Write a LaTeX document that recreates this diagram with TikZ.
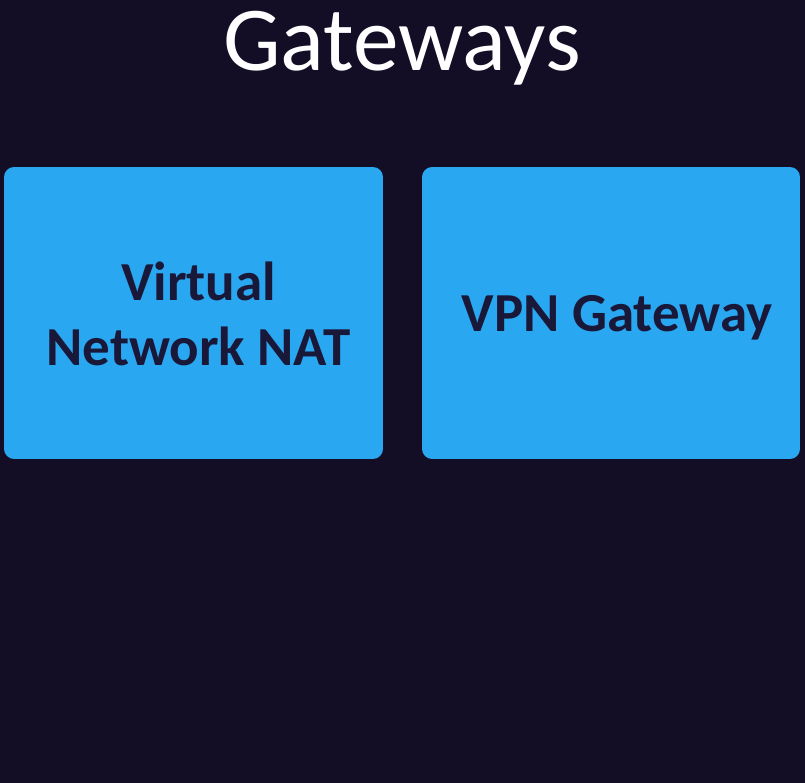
\documentclass[tikz,border=0pt]{standalone}
\usepackage{fontspec}
\setmainfont{Carlito}
\usetikzlibrary{positioning}

\definecolor{bgnavy}{HTML}{130D26}
\definecolor{boxblue}{HTML}{2AA7F1}
\definecolor{inkdark}{HTML}{1A1838}

\begin{document}
\begin{tikzpicture}[
  x=0.02cm, y=-0.02cm,
  gwbox/.style={rectangle, rounded corners=0.2cm, fill=boxblue,
    minimum width=7.58cm, minimum height=5.84cm},
  gwtext/.style={align=center, text=inkdark,
    font=\fontsize{31.3}{37}\selectfont\bfseries},
  heading/.style={text=white, font=\fontsize{52}{62}\selectfont, anchor=base}
]
  % background fixes the page size
  \fill[bgnavy] (0,0) rectangle (805,783);
  \useasboundingbox (0,0) rectangle (805,783);

  \node[heading] (title) at (402,71) {Gateways};

  % the two gateway kinds side by side
  \node[gwbox] (nat) at (193.5,313) {};
  \node[gwbox, minimum width=7.56cm] (vpn) at (611,313) {};

  \node[gwtext, xshift=0.1cm, yshift=-0.02cm] (natlabel) at (nat.center) {Virtual\\Network NAT};
  \node[gwtext, xshift=0.12cm, yshift=-0.1cm] (vpnlabel) at (vpn.center) {VPN Gateway};
\end{tikzpicture}
\end{document}
